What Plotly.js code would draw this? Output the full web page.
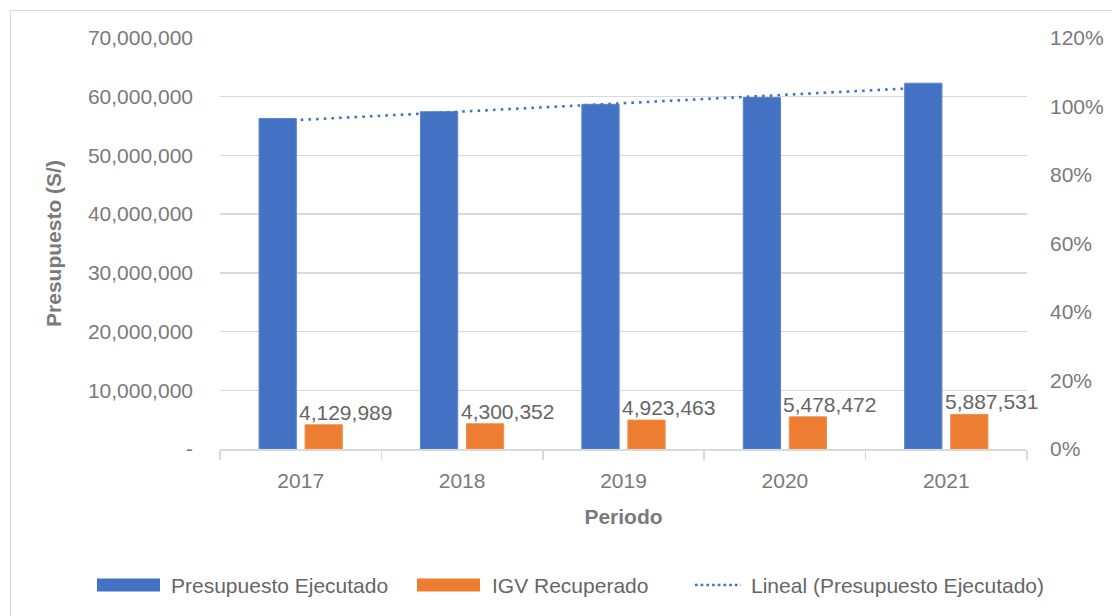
<!DOCTYPE html>
<html>
<head>
<meta charset="utf-8">
<script src="https://cdn.plot.ly/plotly-3.0.1.min.js"></script>
<style>
  html, body { margin: 0; padding: 0; background: #ffffff; }
  #wrap { position: relative; width: 1112px; height: 616px; overflow: hidden; }
  #chart { position: absolute; left: 0; top: 0; width: 1112px; height: 616px; }
  #frame { position: absolute; left: 10px; top: 10px; width: 1110px; height: 620px;
           border: 1px solid #d9d9d9; box-sizing: border-box; pointer-events: none; }
</style>
</head>
<body>
<div id="wrap">
  <div id="chart"></div>
  <div id="frame"></div>
</div>
<script>
// ---- data ----
const categories = ['2017', '2018', '2019', '2020', '2021'];
const presupuestoEjecutado = [56300000, 57450000, 58700000, 59850000, 62300000];
const igvRecuperado = [4129989, 4300352, 4923463, 5478472, 5887531];
const trendCategories = ['2017', '2021'];
const trendValues = [56050000, 61750000];
const yTickVals = [0, 10000000, 20000000, 30000000, 40000000, 50000000, 60000000, 70000000];
const yTickText = ['-', '10,000,000', '20,000,000', '30,000,000', '40,000,000', '50,000,000', '60,000,000', '70,000,000'];
const y2TickVals = [0, 0.2, 0.4, 0.6, 0.8, 1.0, 1.2];
const y2TickText = ['0%', '20%', '40%', '60%', '80%', '100%', '120%'];
const legendLabels = ['Presupuesto Ejecutado', 'IGV Recuperado', 'Lineal (Presupuesto Ejecutado)'];
const labelText = igvRecuperado.map(v => v.toLocaleString('en-US'));

const BLUE = '#4472C4';
const ORANGE = '#ED7D31';
const GRAY = '#7a7a7a';
const FONT = '"Liberation Sans", Arial, sans-serif';

const traces = [
  {
    type: 'bar', name: legendLabels[0], x: categories, y: presupuestoEjecutado,
    marker: { color: BLUE, line: { color: '#5a84cc', width: 1 } },
    hoverinfo: 'x+y', showlegend: false
  },
  {
    type: 'bar', name: legendLabels[1], x: categories, y: igvRecuperado,
    marker: { color: ORANGE, line: { color: '#f08f4e', width: 1 } },
    hoverinfo: 'x+y', showlegend: false
  },
  {
    type: 'scatter', mode: 'lines', name: legendLabels[2], x: trendCategories, y: trendValues,
    line: { color: BLUE, width: 2.6, dash: '2.6px,5.1px' },
    hoverinfo: 'skip', showlegend: false
  },
  {
    type: 'scatter', mode: 'markers', x: categories, y: [0, 0, 0, 0, 0], yaxis: 'y2',
    marker: { opacity: 0 }, hoverinfo: 'skip', showlegend: false
  }
];

// data labels for the orange bars (x given as category index)
const annotations = categories.map((c, i) => ({
  xref: 'x', yref: 'y', x: i, y: igvRecuperado[i],
  text: labelText[i], showarrow: false,
  xanchor: 'center', yanchor: 'bottom', xshift: 45, yshift: -1,
  font: { family: FONT, size: 21, color: '#666666' }
}));

// custom legend (paper coordinates)
function px2x(px) { return (px - 220) / 807; }
function px2y(py) { return (449 - py) / 411; }
const legendY = 585;
const legendItems = [
  { kind: 'rect', color: BLUE, x0: 97, x1: 160, tx: 169, text: legendLabels[0] },
  { kind: 'rect', color: ORANGE, x0: 417, x1: 480, tx: 490, text: legendLabels[1] },
  { kind: 'line', color: BLUE, x0: 695, x1: 741, tx: 749, text: legendLabels[2] }
];
const shapes = [];
legendItems.forEach(it => {
  if (it.kind === 'rect') {
    shapes.push({ type: 'rect', xref: 'paper', yref: 'paper',
      x0: px2x(it.x0), x1: px2x(it.x1), y0: px2y(legendY - 6.5), y1: px2y(legendY + 6.5),
      fillcolor: it.color, line: { width: 0 } });
  } else {
    shapes.push({ type: 'line', xref: 'paper', yref: 'paper',
      x0: px2x(it.x0), x1: px2x(it.x1), y0: px2y(legendY), y1: px2y(legendY),
      line: { color: it.color, width: 2.6, dash: '2.6px,3.1px' } });
  }
  annotations.push({ xref: 'paper', yref: 'paper', x: px2x(it.tx), y: px2y(legendY),
    xanchor: 'left', yanchor: 'middle', showarrow: false, text: it.text,
    font: { family: FONT, size: 21, color: '#666666' } });
});

const layout = {
  width: 1112, height: 616,
  margin: { l: 220, r: 85, t: 38, b: 167, pad: 0 },
  paper_bgcolor: '#ffffff', plot_bgcolor: '#ffffff',
  font: { family: FONT, size: 21, color: GRAY },
  barmode: 'group', bargap: 0.43, bargroupgap: 0.19,
  showlegend: false,
  xaxis: {
    type: 'category', categoryorder: 'array', categoryarray: categories,
    range: [-0.5, categories.length - 0.5], autorange: false,
    showline: true, linecolor: '#d9d9d9', linewidth: 1.5,
    ticks: 'outside', tickson: 'boundaries', ticklen: 9, tickcolor: '#d9d9d9', tickwidth: 1.5,
    showgrid: false, zeroline: false, tickangle: 0,
    tickfont: { family: FONT, size: 21, color: GRAY },
    ticklabelstandoff: 12,
    title: { text: 'Periodo', standoff: 18, font: { family: FONT, size: 21, color: GRAY, weight: 'bold' } }
  },
  yaxis: {
    range: [0, 70000000], autorange: false, tickmode: 'array', tickvals: yTickVals, ticktext: yTickText,
    showgrid: true, gridcolor: '#d9d9d9', gridwidth: 1.5, zeroline: false, showline: false,
    ticks: '', ticklabelstandoff: 26,
    tickfont: { family: FONT, size: 21, color: GRAY },
    title: { text: 'Presupuesto (S/)', standoff: 20, font: { family: FONT, size: 21, color: GRAY, weight: 'bold' } }
  },
  yaxis2: {
    overlaying: 'y', side: 'right', range: [0, 1.2], autorange: false,
    tickmode: 'array', tickvals: y2TickVals, ticktext: y2TickText,
    showgrid: false, zeroline: false, showline: false, ticks: '', ticklabelstandoff: 22,
    tickfont: { family: FONT, size: 21, color: GRAY }
  },
  shapes: shapes,
  annotations: annotations
};

Plotly.newPlot('chart', traces, layout, { displayModeBar: false, staticPlot: true });
</script>
</body>
</html>
